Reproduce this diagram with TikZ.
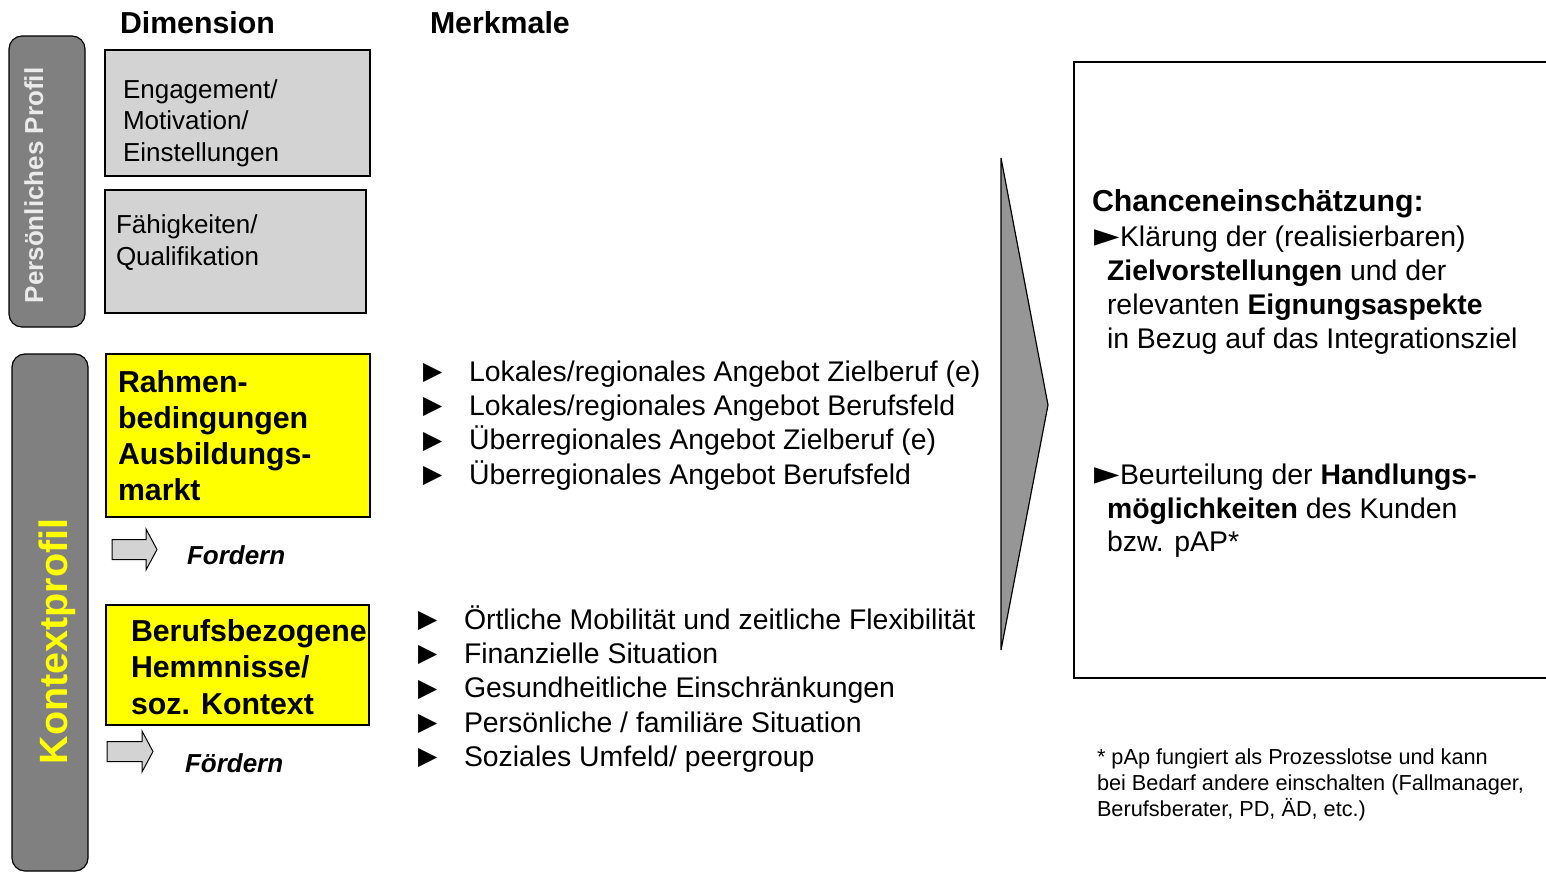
\documentclass[tikz,border=0pt]{standalone}
\usepackage{fontspec}
\setmainfont{Liberation Sans}
\newfontfamily\dejavu{DejaVu Sans}
\newcommand{\fsz}[2]{\fontsize{#1}{#2}\selectfont}
\definecolor{barfill}{HTML}{808080}
\definecolor{boxgray}{HTML}{D3D3D3}
\definecolor{trifill}{HTML}{969696}
\definecolor{ylw}{HTML}{FFFF00}
\definecolor{proftext}{HTML}{EAEAEA}
\begin{document}
\begin{tikzpicture}[x=1pt,y=-1pt,
  every node/.style={inner sep=0pt, outer sep=0pt},
  bar/.style={draw=black, line width=1.2pt, fill=barfill, rounded corners=13pt, anchor=north west},
  graybox/.style={draw=black, line width=1.2pt, fill=boxgray, anchor=north west},
  ylwbox/.style={draw=black, line width=1.2pt, fill=ylw, anchor=north west},
  blockarrow/.style={draw=black, line width=1pt, fill=boxgray},
  head/.style={anchor=base west, font=\bfseries\fsz{30.3}{36}},
  merk/.style={anchor=base west, font=\fsz{28.4}{34}},
  bul/.style={anchor=base west, font=\dejavu\fsz{25}{30}},
  dimtxt/.style={anchor=base west, font=\fsz{26}{31}},
  ylwtxt/.style={anchor=base west, font=\bfseries\fsz{30.3}{36}},
  actxt/.style={anchor=base west, font=\bfseries\itshape\fsz{26}{31}},
  rtxt/.style={anchor=base west, font=\fsz{28.4}{34}},
  rbul/.style={anchor=base west, font=\dejavu\fsz{33}{36}},
  foot/.style={anchor=base west, font=\fsz{21.7}{26}}
]
\useasboundingbox (0,0) rectangle (1546,873);
\fill[white] (0,0) rectangle (1546,873);

% headers
\node[head] (hdim) at (120,33) {Dimension};
\node[head] (hmerk) at (430,33) {Merkmale};

% side bars
\node[bar, minimum width=76pt, minimum height=291pt] (pbar) at (9,36) {};
\node[rotate=90, anchor=base, text=proftext, font=\bfseries\fsz{26}{30}] (ptext) at (43,185.5) {Persönliches Profil};
\node[bar, minimum width=76pt, minimum height=517pt] (kbar) at (12,354) {};
\node[rotate=90, anchor=base, text=ylw, font=\bfseries\fsz{39.5}{46}] (ktext) at (67,641.5) {Kontextprofil};

% gray boxes
\node[graybox, minimum width=265pt, minimum height=126pt] (eng) at (105,50) {};
\node[dimtxt] (eng1) at (123,98) {Engagement/};
\node[dimtxt] (eng2) at (123,129.5) {Motivation/};
\node[dimtxt] (eng3) at (123,161) {Einstellungen};
\node[graybox, minimum width=261pt, minimum height=123pt] (faeh) at (105,190) {};
\node[dimtxt] (faeh1) at (116,233) {Fähigkeiten/};
\node[dimtxt] (faeh2) at (116,265) {Qualifikation};

% yellow boxes
\node[ylwbox, minimum width=264pt, minimum height=163pt] (rahmen) at (106,354) {};
\node[ylwtxt] (r1) at (118,392) {Rahmen-};
\node[ylwtxt] (r2) at (118,428) {bedingungen};
\node[ylwtxt] (r3) at (118,464) {Ausbildungs-};
\node[ylwtxt] (r4) at (118,500) {markt};
\node[ylwbox, minimum width=263pt, minimum height=120pt] (beruf) at (106,605) {};
\node[ylwtxt] (b1) at (131,641) {Berufsbezogene};
\node[ylwtxt] (b2) at (131,677) {Hemmnisse/};
\node[ylwtxt] (b3) at (131,714) {soz. Kontext};

% block arrows
\draw[blockarrow] (112,539.5) -- (146,539.5) -- (146,529) -- (157,549.5) -- (146,570) -- (146,559.5) -- (112,559.5) -- cycle;
\node[actxt] (ford) at (187,564) {Fordern};
\draw[blockarrow] (107,741.5) -- (142,741.5) -- (142,731) -- (153,751.5) -- (142,772) -- (142,761.5) -- (107,761.5) -- cycle;
\node[actxt] (foerd) at (185,772) {Fördern};

% Merkmale group 1
\node[bul] (m1b) at (423,379.5) {▶};
\node[merk] (m1) at (469,381) {Lokales/regionales Angebot Zielberuf (e)};
\node[bul] (m2b) at (423,413.5) {▶};
\node[merk] (m2) at (469,415) {Lokales/regionales Angebot Berufsfeld};
\node[bul] (m3b) at (423,448) {▶};
\node[merk] (m3) at (469,449.5) {Überregionales Angebot Zielberuf (e)};
\node[bul] (m4b) at (423,482.5) {▶};
\node[merk] (m4) at (469,484) {Überregionales Angebot Berufsfeld};

% Merkmale group 2
\node[bul] (n1b) at (418,627.5) {▶};
\node[merk] (n1) at (464,629) {Örtliche Mobilität und zeitliche Flexibilität};
\node[bul] (n2b) at (418,661.5) {▶};
\node[merk] (n2) at (464,663) {Finanzielle Situation};
\node[bul] (n3b) at (418,696) {▶};
\node[merk] (n3) at (464,697.5) {Gesundheitliche Einschränkungen};
\node[bul] (n4b) at (418,730.5) {▶};
\node[merk] (n4) at (464,732) {Persönliche / familiäre Situation};
\node[bul] (n5b) at (418,764.5) {▶};
\node[merk] (n5) at (464,766) {Soziales Umfeld/ peergroup};

% big arrow
\draw[fill=trifill, line width=1.2pt, line join=miter] (1001,158) -- (1048,405) -- (1001,650) -- cycle;

% right box
\draw[line width=1.2pt] (1546,62) -- (1074,62) -- (1074,678) -- (1546,678);
\node[head] (chance) at (1092,211) {Chanceneinschätzung:};
\node[rbul] (c1b) at (1094,246) {►};
\node[rtxt] (c1) at (1120,246) {Klärung der (realisierbaren)};
\node[rtxt] (c2) at (1107,280) {\textbf{Zielvorstellungen} und der};
\node[rtxt] (c3) at (1107,314) {relevanten \textbf{Eignungsaspekte}};
\node[rtxt] (c4) at (1107,348) {in Bezug auf das Integrationsziel};
\node[rbul] (d1b) at (1094,484) {►};
\node[rtxt] (d1) at (1120,484) {Beurteilung der \textbf{Handlungs-}};
\node[rtxt] (d2) at (1107,518) {\textbf{möglichkeiten} des Kunden};
\node[rtxt] (d3) at (1107,551) {bzw. pAP*};

% footnote
\node[foot] (f1) at (1097,764) {* pAp fungiert als Prozesslotse und kann};
\node[foot] (f2) at (1097,790) {bei Bedarf andere einschalten (Fallmanager,};
\node[foot] (f3) at (1097,816) {Berufsberater, PD, ÄD, etc.)};
\end{tikzpicture}
\end{document}
